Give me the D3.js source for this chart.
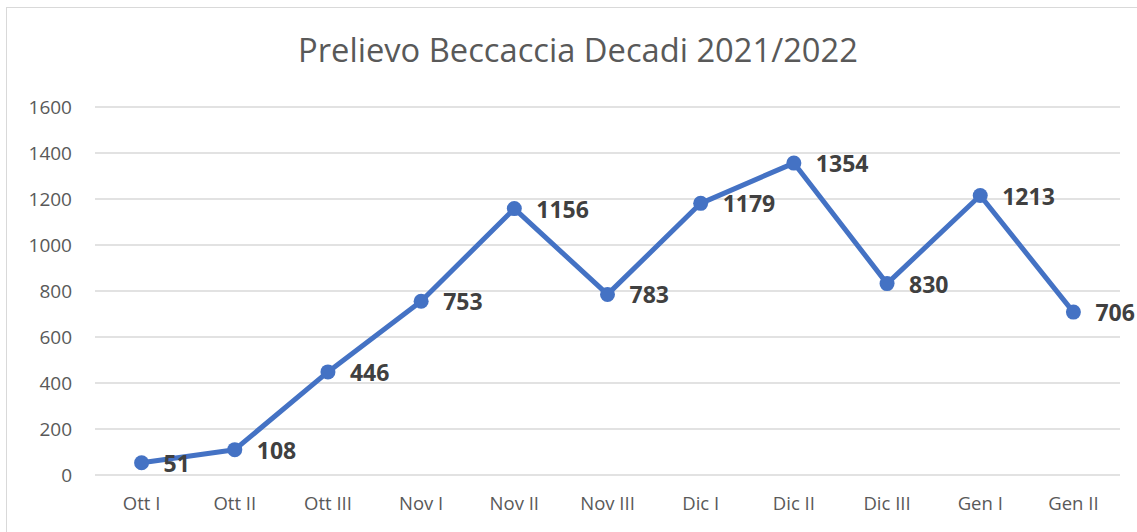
<!DOCTYPE html>
<html><head><meta charset="utf-8">
<script src="https://cdn.jsdelivr.net/npm/d3@7"></script>
<style>body{margin:0;background:#fff}svg{display:block}</style>
</head><body>
<script>
const categories = ["Ott I","Ott II","Ott III","Nov I","Nov II","Nov III","Dic I","Dic II","Dic III","Gen I","Gen II"];
const values = [51,108,446,753,1156,783,1179,1354,830,1213,706];
const yTicks = [0,200,400,600,800,1000,1200,1400,1600];
const title = "Prelievo Beccaccia Decadi 2021/2022";

const W = 1137, H = 532;
const font = "'Open Sans', 'Noto Sans', sans-serif";
const svg = d3.select("body").append("svg").attr("width", W).attr("height", H);
svg.append("rect").attr("x",6.5).attr("y",7.5).attr("width",W+10).attr("height",H+10)
  .attr("fill","#fff").attr("stroke","#d9d9d9").attr("stroke-width",1);

const x = d3.scaleBand().domain(categories).range([95,1120]);
const y = d3.scaleLinear().domain([0,1600]).range([474.5,106.5]);

function fitText(sel, target){
  const fs = +sel.attr("font-size");
  const w = sel.node().getComputedTextLength();
  sel.attr("font-size", fs*target/w);
}

const t = svg.append("text").attr("x",578).attr("y",62).attr("text-anchor","middle")
  .attr("font-family",font).attr("font-size",29).attr("fill","#595959").text(title);
fitText(t, 560);

const ga = svg.append("g").attr("transform","translate(95,0)")
  .call(d3.axisLeft(y).tickValues(yTicks).tickFormat(d3.format("d")).tickSize(-1025).tickPadding(23));
ga.select(".domain").remove();
ga.selectAll("line").attr("stroke","#d9d9d9").attr("stroke-width",1.5);
ga.selectAll("text").attr("font-family",font).attr("font-size",19).attr("fill","#595959").attr("dy","0.35em");

const gx = svg.append("g").attr("transform","translate(0,474.5)")
  .call(d3.axisBottom(x).tickSize(0).tickPadding(22));
gx.select(".domain").remove();
gx.selectAll("text").attr("font-family",font).attr("font-size",18.5).attr("fill","#595959");

const cx = d => x(d) + x.bandwidth()/2;
svg.append("path").datum(values)
  .attr("d", d3.line().x((d,i)=>cx(categories[i])).y(d=>y(d)))
  .attr("fill","none").attr("stroke","#4472c4").attr("stroke-width",5).attr("stroke-linejoin","round");
svg.selectAll("circle.p").data(values).join("circle")
  .attr("cx",(d,i)=>cx(categories[i])).attr("cy",d=>y(d)).attr("r",7.5).attr("fill","#4472c4");
svg.selectAll("text.lbl").data(values).join("text").attr("class","lbl")
  .attr("x",(d,i)=>cx(categories[i])+22).attr("y",d=>y(d)+9)
  .attr("font-family",font).attr("font-weight","bold").attr("font-size",23).attr("fill","#404040")
  .text(d=>d);
</script>
</body></html>
